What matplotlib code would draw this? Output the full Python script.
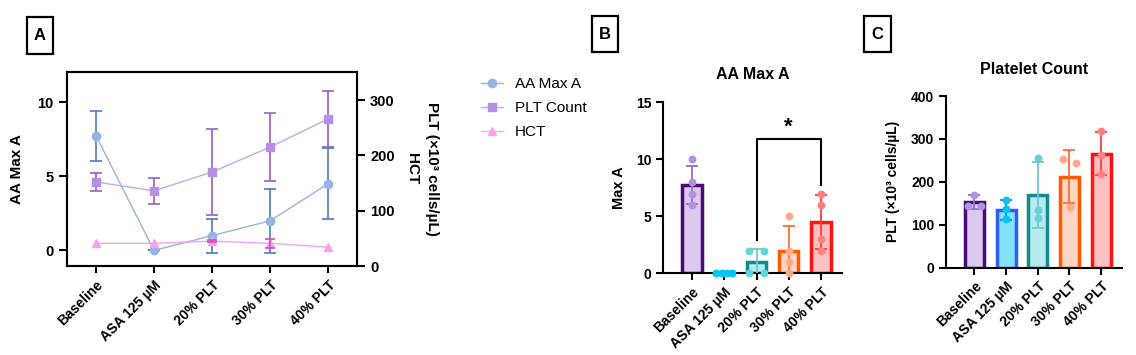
import matplotlib
matplotlib.use("Agg")
import matplotlib.pyplot as plt
from matplotlib.patches import Rectangle

plt.rcParams["font.family"] = ["Liberation Sans", "DejaVu Sans"]
plt.rcParams["font.weight"] = "bold"

groups = ["Baseline", "ASA 125 µM", "20% PLT", "30% PLT", "40% PLT"]

# panel A: group means and SDs
aa_mean = [7.75, 0.0, 1.0, 2.0, 4.5]
aa_sd = [1.7, 0.0, 1.15, 2.15, 2.4]
plt_mean = [152, 136, 170, 215, 266]
plt_sd = [16, 23, 77, 62, 50]
hct_mean = [41, 41, 45, 41, 34]
hct_sd = [0, 0, 2, 8, 0]

# panel B: individual AA Max A values
maxa_points = [[10, 8, 7, 6], [0, 0, 0, 0], [2, 2, 0, 0], [5, 2, 1, 0], [7, 6, 3, 2]]
maxa_jitter = [[0, 0, 0, 0], [-0.25, -0.08, 0.08, 0.25], [-0.23, 0.23, -0.23, 0.23],
               [0, 0, 0, 0], [0, 0, 0, 0]]
# panel C: individual platelet counts
plt_points = [[170, 143, 143], [158, 137, 113], [256, 134, 115], [254, 244, 142], [318, 262, 219]]
plt_jitter = [[0, -0.22, 0.22], [0, 0, 0], [0, 0, 0], [-0.22, 0.22, 0.02], [0, 0, 0]]
plt_bar = [152, 134, 168, 212, 265]
plt_bar_sd = [16, 23, 77, 62, 50]

fills = ["#dccaee", "#82e2fa", "#b6eaec", "#ffd6c4", "#ffc0c2"]
edges = ["#4a0b78", "#2e5cff", "#138a90", "#ff5a00", "#ff1414"]
dots = ["#b390e0", "#00c6f6", "#62d4d8", "#ffa98a", "#ff8080"]
errs = ["#9470c0", "#2e6ef0", "#72c8cc", "#ff6c3a", "#ff3a3a"]

fig = plt.figure(figsize=(11.36, 3.55), dpi=100)
W, H = 1136, 355


def box_label(x0, x1, y0, y1, s):
    fig.patches.append(Rectangle((x0 / W, 1 - y1 / H), (x1 - x0) / W, (y1 - y0) / H,
                                 transform=fig.transFigure, fill=False, lw=1.6, color="black"))
    fig.text((x0 + x1) / 2 / W, 1 - (y0 + y1) / 2 / H, s, ha="center", va="center",
             fontsize=12, fontweight="bold")


box_label(26.7, 53.3, 17.3, 54.3, "A")
box_label(591.7, 618.3, 16.5, 52.3, "B")
box_label(864.3, 891, 16.5, 52.3, "C")

x = list(range(len(groups)))

# ---- panel A
axA = fig.add_axes([67 / W, 1 - 266 / H, 290 / W, 194 / H])
axR = axA.twinx()
hA = axA.errorbar(x, aa_mean, yerr=aa_sd, color="#94b4e4", ecolor="#4a7cc4", lw=1, elinewidth=1.2,
                  capsize=4, capthick=1.2, marker="o", ms=6)
hP = axR.errorbar(x, plt_mean, yerr=plt_sd, color="#c8a6ea", ecolor="#9a5cc8", lw=1, elinewidth=1.2,
                  capsize=4, capthick=1.2, marker="s", ms=6, mfc="#b690e2", mec="#b690e2")
hH = axR.plot(x, hct_mean, color="#f6a2ee", lw=1, marker="^", ms=6)[0]
for i in x:
    if hct_sd[i] > 0:
        axR.errorbar(i, hct_mean[i], yerr=hct_sd[i], fmt="none", ecolor="#d050c0", elinewidth=1.2,
                     capsize=3.5, capthick=1.2)
axA.set_xlim(-0.5, 4.5)
axA.set_ylim(-1.05, 12.05)
axR.set_ylim(0, 351)
axA.set_yticks([0, 5, 10])
axR.set_yticks([0, 100, 200, 300])
axA.set_xticks(x)
axA.set_xticklabels(groups, rotation=45, ha="right", rotation_mode="anchor", fontsize=10)
axA.tick_params(axis="y", labelsize=10.5, width=1.5, length=6)
axA.tick_params(axis="x", width=1.5, length=5)
axR.tick_params(axis="y", labelsize=10.5, width=1.5, length=6)
for ax in (axA, axR):
    for sp in ax.spines.values():
        sp.set_linewidth(1.5)
axA.set_ylabel("AA Max A", fontsize=11, fontweight="bold", labelpad=10)
axR.set_ylabel("PLT (×10³ cells/µL)\nHCT", fontsize=11, fontweight="bold", rotation=270,
               labelpad=32, multialignment="center", linespacing=1.55)

fig.legend(handles=[hA[0], hP[0], hH], labels=["AA Max A", "PLT Count", "HCT"], loc="upper left",
           bbox_to_anchor=(481 / W, 1 - 77 / H), frameon=False, borderpad=0, borderaxespad=0,
           handlelength=1.45, handletextpad=0.75, labelspacing=0.65,
           prop={"size": 11, "weight": "normal"})


def bar_panel(ax, bars, sds, pts, jit, cols_fill, cols_edge, cols_dot, cols_err):
    ax.bar(x, bars, width=0.6, color=cols_fill, edgecolor=cols_edge, linewidth=2.5, zorder=2)
    for i in x:
        ax.errorbar(i, bars[i], yerr=sds[i], color=cols_err[i], lw=1.3, capsize=4, capthick=1.3, zorder=3)
        ax.scatter([i + j for j in jit[i]], pts[i], s=32, color=cols_dot[i], zorder=4, clip_on=False,
                   linewidths=0)
    ax.spines["top"].set_visible(False)
    ax.spines["right"].set_visible(False)
    ax.spines["left"].set_linewidth(1.5)
    ax.spines["bottom"].set_linewidth(1.5)
    ax.set_xlim(-0.9, 4.65)
    ax.set_xticks(x)
    ax.set_xticklabels(groups, rotation=45, ha="right", rotation_mode="anchor", fontsize=9.5)
    ax.tick_params(axis="both", width=1.5, length=5, labelsize=10)


# ---- panel B
axB = fig.add_axes([663 / W, 1 - 273.3 / H, 179 / W, 171 / H])
bar_panel(axB, aa_mean, aa_sd, maxa_points, maxa_jitter, fills[:1] + ["#ffffff"] + fills[2:],
          edges[:1] + ["#00c6f6"] + edges[2:], dots, errs[:1] + ["#00c6f6"] + errs[2:])
axB.set_ylim(0, 15)
axB.set_yticks([0, 5, 10, 15])
axB.set_ylabel("Max A", fontsize=10.5, fontweight="bold", labelpad=7)
axB.set_title("AA Max A", fontsize=11.5, fontweight="bold", pad=17)
sig_pair = (2, 4)
sig_top = 11.8
sig_feet = (2.9, 7.75)
axB.plot([sig_pair[0], sig_pair[0], sig_pair[1], sig_pair[1]],
         [sig_feet[0], sig_top, sig_top, sig_feet[1]], color="black", lw=1.5, zorder=5)
axB.text((sig_pair[0] + sig_pair[1]) / 2, sig_top + 0.05, "*", ha="center", va="bottom",
         fontsize=16, fontweight="bold")

# ---- panel C
axC = fig.add_axes([946 / W, 1 - 267.5 / H, 175.7 / W, 171.5 / H])
bar_panel(axC, plt_bar, plt_bar_sd, plt_points, plt_jitter, fills, edges, dots, errs)
axC.set_ylim(0, 400)
axC.set_yticks([0, 100, 200, 300, 400])
axC.set_ylabel("PLT (×10³ cells/µL)", fontsize=10, fontweight="bold", labelpad=8)
axC.set_title("Platelet Count", fontsize=11.5, fontweight="bold", pad=16)

fig.savefig("out.png", dpi=100)
